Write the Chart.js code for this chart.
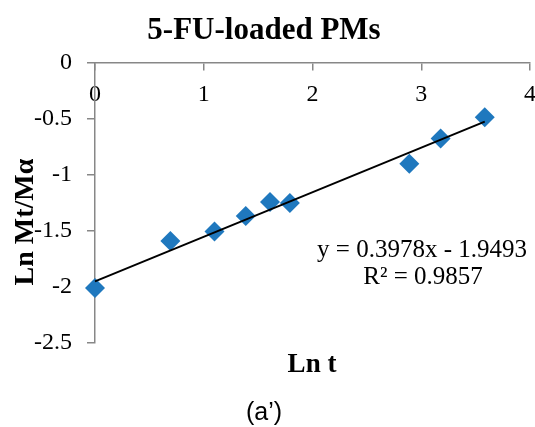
<!DOCTYPE html>
<html>
<head>
<meta charset="utf-8">
<script src="https://cdn.jsdelivr.net/npm/chart.js@4"></script>
<style>
  html, body { margin: 0; padding: 0; background: #fff; }
  canvas { display: block; }
</style>
</head>
<body>
<canvas id="chart" width="535" height="427"></canvas>
<script>
// ln t values and ln Mt/Ma
const lnT = [0, 0.693, 1.099, 1.386, 1.609, 1.792, 2.890, 3.178, 3.584];
const lnRelease = [-2.01, -1.59, -1.505, -1.365, -1.24, -1.25, -0.90, -0.675, -0.485];

// fitted line y = 0.3978x - 1.9493, drawn between first and last x
const trendX = [0, 3.584];
const trendY = [-1.9493, -0.5236];

const xTicks = [0, 1, 2, 3, 4];
const xTickLabels = ['0', '1', '2', '3', '4'];
const yTicks = [-2.5, -2, -1.5, -1, -0.5, 0];
const yTickLabels = ['-2.5', '-2', '-1.5', '-1', '-0.5', '0'];

const chartTitle = '5-FU-loaded PMs';
const xTitle = 'Ln t';
const yTitle = 'Ln Mt/Mα';
const eqLines = ['y = 0.3978x - 1.9493', 'R² = 0.9857'];
const caption = '(a’)';

const axisGrey = '#878787';
const serif = '"Liberation Serif", "Times New Roman", serif';

const textPlugin = {
  id: 'texts',
  afterDraw(chart) {
    const ctx = chart.ctx;
    ctx.save();
    ctx.fillStyle = '#000';
    ctx.textAlign = 'center';
    ctx.textBaseline = 'alphabetic';

    ctx.font = 'bold 31px ' + serif;
    ctx.fillText(chartTitle, 264, 39);

    ctx.font = 'bold 27px ' + serif;
    ctx.fillText(xTitle, 312, 372);

    ctx.font = '25px ' + serif;
    ctx.fillText(eqLines[0], 422, 257);
    ctx.fillText(eqLines[1], 423, 284);

    ctx.font = '25px "Liberation Sans", Arial, sans-serif';
    ctx.fillText(caption, 264, 420);

    ctx.translate(33, 222);
    ctx.rotate(-Math.PI / 2);
    ctx.font = 'bold 28px ' + serif;
    ctx.fillText(yTitle, 0, 0);
    ctx.restore();
  }
};

new Chart(document.getElementById('chart'), {
  type: 'scatter',
  data: {
    datasets: [
      {
        label: 'trend',
        data: trendX.map((x, i) => ({ x, y: trendY[i] })),
        showLine: true,
        borderColor: '#000',
        borderWidth: 2,
        pointRadius: 0,
        order: 0,
        clip: false
      },
      {
        label: '5-FU',
        data: lnT.map((x, i) => ({ x, y: lnRelease[i] })),
        pointStyle: 'rectRot',
        pointRadius: 10,
        pointBackgroundColor: '#1f78be',
        pointBorderColor: '#1f78be',
        pointBorderWidth: 0,
        order: 1,
        clip: false
      }
    ]
  },
  options: {
    responsive: false,
    animation: false,
    devicePixelRatio: 1,
    layout: { autoPadding: false, padding: { top: 63, right: 5, bottom: 84, left: 0 } },
    plugins: {
      legend: { display: false },
      title: { display: false },
      tooltip: { enabled: false }
    },
    scales: {
      x: {
        type: 'linear',
        position: { y: 0 },
        min: 0,
        max: 4,
        afterBuildTicks: s => { s.ticks = xTicks.map(v => ({ value: v })); },
        afterFit: s => { s.height = 0; s.paddingLeft = 0; s.paddingRight = 0; },
        grid: { drawOnChartArea: false, drawTicks: true, tickLength: 7, color: axisGrey, lineWidth: 1.5 },
        border: { color: axisGrey, width: 1.5 },
        ticks: {
          padding: 10,
          color: '#000',
          font: { family: serif, size: 24 },
          callback: (v, i) => xTickLabels[i]
        }
      },
      y: {
        type: 'linear',
        position: 'left',
        min: -2.5,
        max: 0,
        afterBuildTicks: s => { s.ticks = yTicks.map(v => ({ value: v })); },
        afterFit: s => { s.width = 95; s.paddingTop = 0; s.paddingBottom = 0; },
        grid: { drawOnChartArea: false, drawTicks: true, tickLength: 8, color: axisGrey, lineWidth: 1.5 },
        border: { color: axisGrey, width: 1.5 },
        ticks: {
          padding: 15,
          color: '#000',
          font: { family: serif, size: 24 },
          callback: (v, i) => yTickLabels[i]
        }
      }
    }
  },
  plugins: [textPlugin]
});
</script>
</body>
</html>
